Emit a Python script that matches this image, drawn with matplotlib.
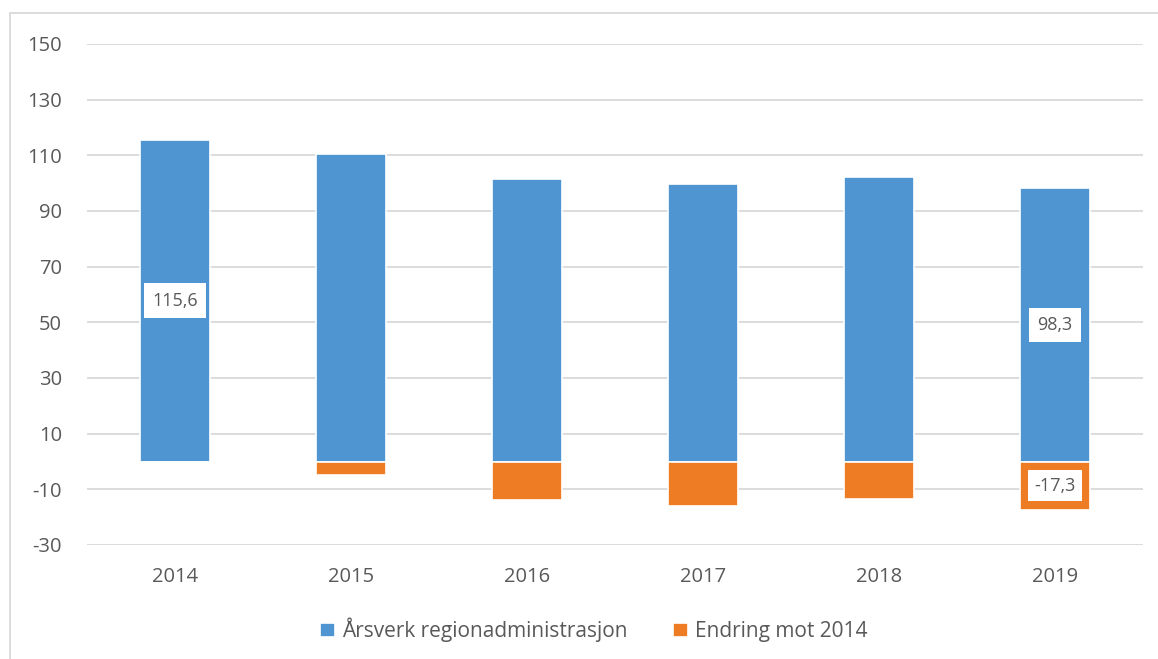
import matplotlib
matplotlib.use("Agg")
import matplotlib.pyplot as plt
from matplotlib.patches import Rectangle

years = ["2014", "2015", "2016", "2017", "2018", "2019"]
aarsverk = [115.6, 110.6, 101.6, 99.6, 102.1, 98.3]
endring = [0.0, -5.0, -14.0, -16.0, -13.5, -17.3]
labels_aarsverk = {0: "115,6", 5: "98,3"}
labels_endring = {5: "-17,3"}
yticks = [-30, -10, 10, 30, 50, 70, 90, 110, 130, 150]

blue = "#4E95D2"
orange = "#EE7C25"
grey = "#595959"

plt.rcParams['font.family'] = ['Open Sans', 'DejaVu Sans']

W, H = 1158, 659
fig = plt.figure(figsize=(W / 100, H / 100), dpi=100)
ax = fig.add_axes([87 / W, 1 - 545 / H, (1143 - 87) / W, (545 - 44) / H])

x = list(range(len(years)))
ax.bar(x, aarsverk, width=0.4, color=blue, edgecolor="white", linewidth=1.2,
       label="Årsverk regionadministrasjon", zorder=3)
ax.bar(x, endring, width=0.4, color=orange, edgecolor="white", linewidth=1.2,
       label="Endring mot 2014", zorder=3)

for i, t in labels_aarsverk.items():
    ax.text(i, aarsverk[i] / 2, t, ha="center", va="center", fontsize=13, color=grey,
            bbox=dict(boxstyle="square,pad=0.45", fc="white", ec="none"), zorder=4)
for i, t in labels_endring.items():
    ax.text(i, endring[i] / 2, t, ha="center", va="center", fontsize=13, color=grey,
            bbox=dict(boxstyle="square,pad=0.35", fc="white", ec="none"), zorder=4)

ax.set_xlim(-0.5, len(years) - 0.5)
ax.set_ylim(-30, 150)
ax.set_yticks(yticks)
ax.set_yticklabels([str(v) for v in yticks])
ax.set_xticks(x)
ax.set_xticklabels(years)
ax.yaxis.grid(True, color="#d9d9d9", linewidth=1.3, zorder=0)
ax.set_axisbelow(True)
for s in ax.spines.values():
    s.set_visible(False)
ax.tick_params(axis="both", length=0, labelsize=14.5, colors=grey)
ax.tick_params(axis="y", pad=18)
ax.tick_params(axis="x", pad=16)

leg = fig.legend(loc="center", bbox_to_anchor=(594 / W, 1 - 630 / H), ncol=2, frameon=False,
                 fontsize=15, handlelength=0.7, handleheight=0.7, handletextpad=0.35,
                 columnspacing=2.2)
for t in leg.get_texts():
    t.set_color(grey)

fig.patches.append(Rectangle((10 / W, -0.01), 1.02, 1 - 13 / H + 0.01, transform=fig.transFigure,
                             fill=False, ec="#d9d9d9", lw=1.3))

fig.savefig("out.png", dpi=100)
